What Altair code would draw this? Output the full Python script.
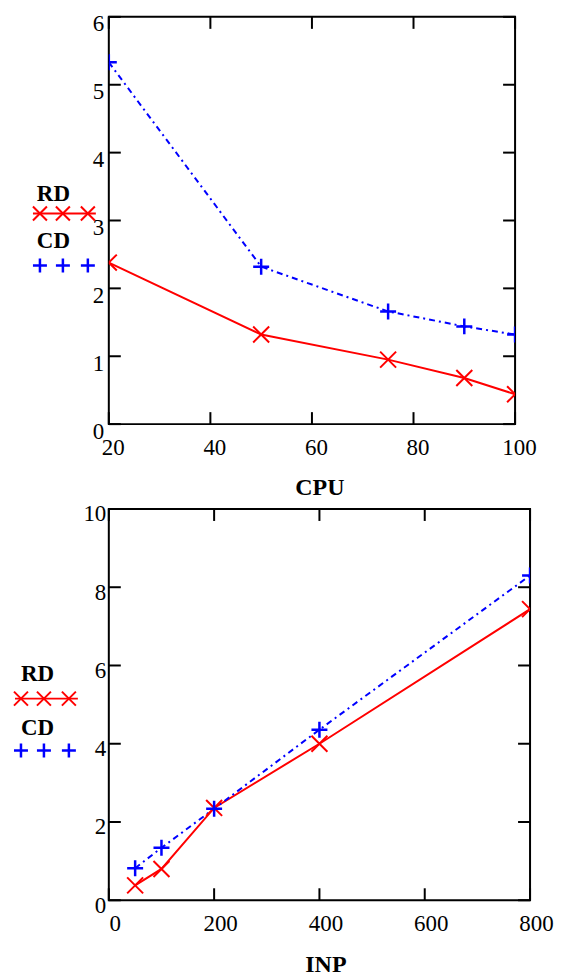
import altair as alt
import pandas as pd

# ---- data ----
cpu = [20, 50, 75, 90, 100]
rd_cpu = [2.38, 1.32, 0.95, 0.68, 0.44]
cd_cpu = [5.33, 2.32, 1.66, 1.44, 1.32]

inp = [50, 100, 200, 400, 800]
rd_inp = [0.38, 0.80, 2.36, 4.00, 7.44]
cd_inp = [0.82, 1.34, 2.34, 4.36, 8.30]

cpu_xticks = [20, 40, 60, 80, 100]
cpu_yticks = [0, 1, 2, 3, 4, 5, 6]
inp_xticks = [0, 200, 400, 600, 800]
inp_yticks = [0, 2, 4, 6, 8, 10]

series_names = ["RD", "CD"]

RED = "#ff0000"
BLUE = "#0000ff"
FONT = "Liberation Serif, Times New Roman, serif"
X_SHAPE = "M-1,-1L1,1M-1,1L1,-1"
P_SHAPE = "M-1,0L1,0M0,-1L0,1"
TICK = 12


def panel(xs, rd, cd, xticks, yticks, xdom, ydom, xtitle, W, H,
          leg, bound_left, bound_top, bound_bottom, title_x,
          x_label_offset, y_label_pad, y_label_offset):
    df_rd = pd.DataFrame({"x": xs, "y": rd})
    df_cd = pd.DataFrame({"x": xs, "y": cd})

    X = alt.X("x:Q",
              scale=alt.Scale(domain=xdom, nice=False, zero=False),
              axis=alt.Axis(values=xticks, title=xtitle, grid=False,
                            domain=False, ticks=False, tickSize=0,
                            labelFont=FONT, labelFontSize=23,
                            labelColor="black", labelFlush=False,
                            labelOverlap=False, labelBaseline="middle",
                            labelPadding=23, labelOffset=x_label_offset,
                            titleFont=FONT, titleFontSize=24,
                            titleFontWeight="bold", titleColor="black",
                            titleBaseline="middle", titleAlign="center",
                            titleX=title_x, titleY=64))
    Y = alt.Y("y:Q",
              scale=alt.Scale(domain=ydom, nice=False, zero=False),
              axis=alt.Axis(values=yticks, title=None, grid=False,
                            domain=False, ticks=False, tickSize=0,
                            labelFont=FONT, labelFontSize=23,
                            labelColor="black", labelBaseline="top",
                            labelOffset=y_label_offset, labelPadding=y_label_pad,
                            labelOverlap=False))

    rd_line = alt.Chart(df_rd).mark_line(color=RED, strokeWidth=2, clip=True).encode(x=X, y=Y)
    cd_line = alt.Chart(df_cd).mark_line(color=BLUE, strokeWidth=2,
                                         strokeDash=[6, 4, 2, 4], clip=True).encode(x=X, y=Y)
    rd_pts = alt.Chart(df_rd).mark_point(shape=X_SHAPE, size=256, filled=False,
                                         color=RED, strokeWidth=2, opacity=1,
                                         clip=True).encode(x=X, y=Y)
    cd_pts = alt.Chart(df_cd).mark_point(shape=P_SHAPE, size=256, filled=False,
                                         color=BLUE, strokeWidth=2.5, opacity=1,
                                         clip=True).encode(x=X, y=Y)

    xt = pd.DataFrame({"x": xticks})
    yt = pd.DataFrame({"y": yticks})
    tick_b = alt.Chart(xt).mark_rule(color="black", strokeWidth=2).encode(
        x=X, y=alt.value(H), y2=alt.value(H - TICK))
    tick_t = alt.Chart(xt).mark_rule(color="black", strokeWidth=2).encode(
        x=X, y=alt.value(0), y2=alt.value(TICK))
    tick_l = alt.Chart(yt).mark_rule(color="black", strokeWidth=2).encode(
        y=Y, x=alt.value(0), x2=alt.value(TICK))
    tick_r = alt.Chart(yt).mark_rule(color="black", strokeWidth=2).encode(
        y=Y, x=alt.value(W), x2=alt.value(W - TICK))

    one = alt.Data(values=[{}])
    layers = [tick_b, tick_t, tick_l, tick_r, rd_line, cd_line, rd_pts, cd_pts]

    # legend (Mathcad style, left of the y axis)
    layers.append(alt.Chart(one).mark_text(font=FONT, fontSize=23, fontWeight="bold",
                                           align="center", baseline="middle",
                                           color="black").encode(
        x=alt.value(leg["tx"]), y=alt.value(leg["rd_ty"]), text=alt.value(series_names[0])))
    layers.append(alt.Chart(one).mark_text(font=FONT, fontSize=23, fontWeight="bold",
                                           align="center", baseline="middle",
                                           color="black").encode(
        x=alt.value(leg["tx"]), y=alt.value(leg["cd_ty"]), text=alt.value(series_names[1])))
    layers.append(alt.Chart(one).mark_rule(color=RED, strokeWidth=2).encode(
        x=alt.value(leg["l0"]), x2=alt.value(leg["l1"]), y=alt.value(leg["rd_y"])))
    for mx in leg["mx"]:
        layers.append(alt.Chart(one).mark_point(shape=X_SHAPE, size=196, filled=False,
                                                color=RED, strokeWidth=2, opacity=1).encode(
            x=alt.value(mx), y=alt.value(leg["rd_y"])))
        layers.append(alt.Chart(one).mark_point(shape=P_SHAPE, size=196, filled=False,
                                                color=BLUE, strokeWidth=2.5, opacity=1).encode(
            x=alt.value(mx), y=alt.value(leg["cd_y"])))

    # invisible rule that fixes the panel's outer bounds
    layers.append(alt.Chart(one).mark_rule(strokeOpacity=0, strokeWidth=0.01).encode(
        x=alt.value(bound_left), y=alt.value(bound_top), y2=alt.value(bound_bottom)))

    return alt.layer(*layers).properties(width=W, height=H)


W1, H1 = 407, 408
W2, H2 = 422, 392

top = panel(cpu, rd_cpu, cd_cpu, cpu_xticks, cpu_yticks, [20, 100], [0, 6], "CPU",
            W1, H1,
            dict(tx=-55.5, rd_ty=177, cd_ty=225, l0=-76, l1=-13, rd_y=197, cd_y=249,
                 mx=[-69, -46, -21]),
            bound_left=-100, bound_top=-7, bound_bottom=H1,
            title_x=211, x_label_offset=4, y_label_pad=5, y_label_offset=-4)

bottom = panel(inp, rd_inp, cd_inp, inp_xticks, inp_yticks, [0, 800], [0, 10], "INP",
               W2, H2,
               dict(tx=-71.5, rd_ty=165, cd_ty=219, l0=-94, l1=-31, rd_y=190, cd_y=242,
                    mx=[-88, -65, -40]),
               bound_left=-100, bound_top=0, bound_bottom=H2,
               title_x=217, x_label_offset=6, y_label_pad=3, y_label_offset=-6)

chart = alt.vconcat(top, bottom, spacing=85, bounds="flush").properties(
    padding=0, background="white"
).configure_view(stroke="black", strokeWidth=2)

chart.save("out.html", embed_options={"renderer": "svg", "actions": False})
